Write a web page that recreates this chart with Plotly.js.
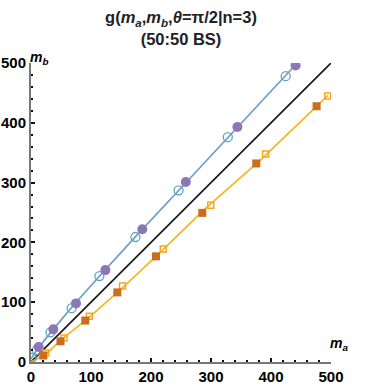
<!DOCTYPE html>
<html>
<head>
<meta charset="utf-8">
<script src="https://cdn.plot.ly/plotly-3.0.1.min.js"></script>
<style>
  html, body { margin: 0; padding: 0; background: #fff; }
  #plot { width: 368px; height: 386px; }
</style>
</head>
<body>
<div id="plot"></div>
<script>
let purpleX = [12.8, 37.2, 75, 124, 185.5, 258, 344, 441];
let purpleY = [25, 54.6, 98, 153.7, 222, 301, 393, 496];

let openCircX = [1, 9.5, 32.5, 67.8, 114, 174, 246, 328, 424.5];
let openCircY = [7, 20, 49.6, 90, 143.7, 209, 287, 376, 478];

let darkSqX = [20.5, 49.2, 90.5, 143.8, 208.3, 285.5, 375.5, 476];
let darkSqY = [10.9, 34.6, 69.3, 116.4, 176.7, 249.4, 332, 427.7];

let openSqX = [24.2, 55, 97.2, 152.5, 220.5, 299.5, 391, 494.5];
let openSqY = [15, 40, 76.3, 127, 188.8, 262.3, 347.8, 445];

// theory curves
let blueLineX = [0, 10, 35, 70, 120, 180, 250, 340, 441];
let blueLineY = [5, 21, 52, 94, 150, 216, 291, 388, 497];

let orangeLineX = [0, 25, 50, 95, 150, 215, 290, 385, 495];
let orangeLineY = [0, 13, 37, 73, 122, 183, 256, 340, 446];

let diagX = [0, 500];
let diagY = [0, 500];

let tickVals = [0, 100, 200, 300, 400, 500];

let traces = [
    {x: diagX, y: diagY, mode: "lines", line: {color: "#1a1a1a", width: 1.7}},
    {x: blueLineX, y: blueLineY, mode: "lines", line: {color: "#6a9ec9", width: 1.7}},
    {x: orangeLineX, y: orangeLineY, mode: "lines", line: {color: "#f7b51c", width: 1.7}},
    {x: openCircX, y: openCircY, mode: "markers",
     marker: {symbol: "circle-open", size: 9, color: "#5da5c3", line: {width: 1.3}}},
    {x: purpleX, y: purpleY, mode: "markers",
     marker: {symbol: "circle", size: 10, color: "#8b77b7"}},
    {x: openSqX, y: openSqY, mode: "markers",
     marker: {symbol: "square-open", size: 6, color: "#f9a51e", line: {width: 1.5}}},
    {x: darkSqX, y: darkSqY, mode: "markers",
     marker: {symbol: "square", size: 8, color: "#c86e1c"}}
];

let axisStyle = {
    range: [0, 500],
    tickvals: tickVals,
    showgrid: false,
    zeroline: false,
    showline: true,
    linecolor: "#777",
    linewidth: 2,
    ticks: "inside",
    ticklen: 4,
    tickwidth: 2,
    tickcolor: "#111",
    minor: {dtick: 20, ticks: "inside", ticklen: 2, tickwidth: 2, tickcolor: "#111"},
    tickfont: {family: "Liberation Sans, Arial, sans-serif", size: 15, color: "#000", weight: "bold"}
};

let layout = {
    width: 368,
    height: 386,
    showlegend: false,
    paper_bgcolor: "#fff",
    plot_bgcolor: "#fff",
    margin: {l: 31, r: 37, t: 63, b: 24},
    title: {
        text: "g(<i>m<sub>a</sub></i>,<i>m<sub>b</sub></i>,<i>θ</i>=π/2|n=3)<br>(50:50 BS)",
        font: {family: "Liberation Sans, Arial, sans-serif", size: 16.5, color: "#222", weight: "bold"},
        x: 0.5, xref: "paper", y: 0.94, yref: "container", yanchor: "top"
    },
    xaxis: Object.assign({}, axisStyle),
    yaxis: Object.assign({}, axisStyle),
    annotations: [
        {text: "<i>m<sub>a</sub></i>", xref: "paper", yref: "paper", x: 1.063, y: 0.025,
         showarrow: false, font: {family: "Liberation Sans, Arial, sans-serif", size: 14, color: "#000", weight: "bold"}},
        {text: "<i>m<sub>b</sub></i>", xref: "paper", yref: "paper", x: -0.01, y: 1.055,
         showarrow: false, font: {family: "Liberation Sans, Arial, sans-serif", size: 14, color: "#000", weight: "bold"}}
    ]
};

Plotly.newPlot("plot", traces, layout, {displayModeBar: false, staticPlot: true});
</script>
</body>
</html>
